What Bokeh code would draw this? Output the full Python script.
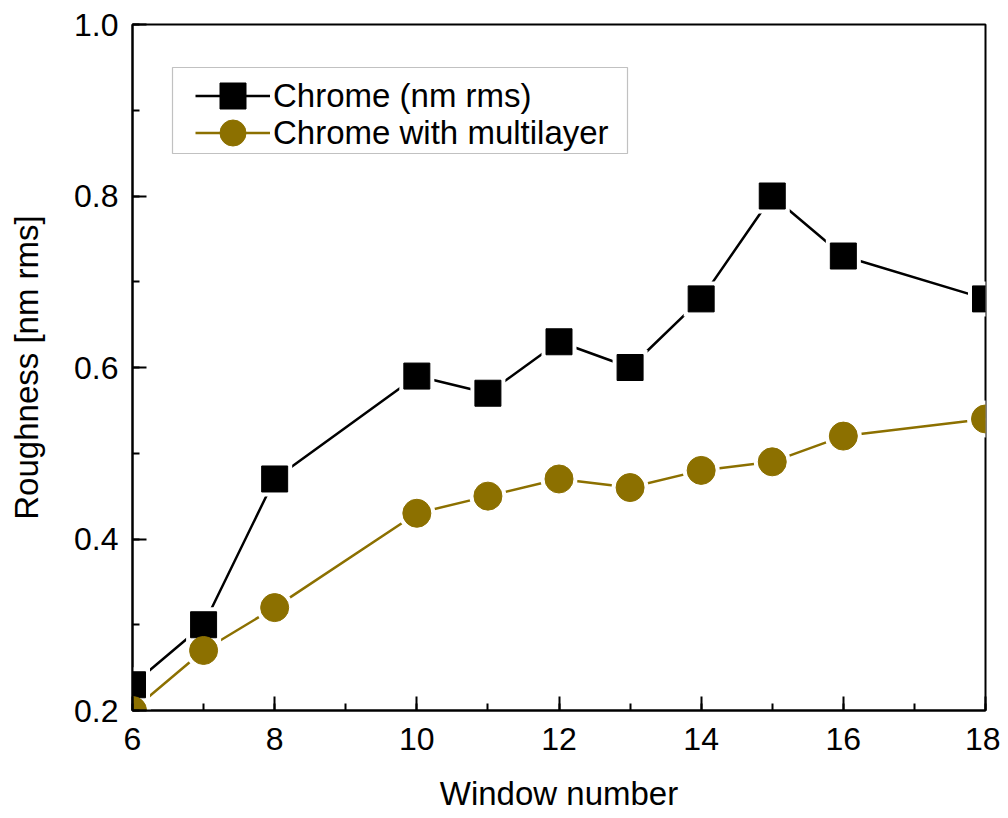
from bokeh.plotting import figure
from bokeh.models import SingleIntervalTicker, Range1d, Legend, LegendItem, NumeralTickFormatter, BoxAnnotation
from bokeh.embed import file_html
from bokeh.resources import INLINE

x_chrome = [6, 7, 8, 10, 11, 12, 13, 14, 15, 16, 18]
y_chrome = [0.23, 0.30, 0.47, 0.59, 0.57, 0.63, 0.60, 0.68, 0.80, 0.73, 0.68]
x_multi = [6, 7, 8, 10, 11, 12, 13, 14, 15, 16, 18]
y_multi = [0.20, 0.27, 0.32, 0.43, 0.45, 0.47, 0.46, 0.48, 0.49, 0.52, 0.54]
label_chrome = "Chrome (nm rms)"
label_multi = "Chrome with multilayer"
x_label = "Window number"
y_label = "Roughness [nm rms]"

GOLD = "#8c7000"
FONT = "Liberation Sans"
SQ = 26
CI = 28

p = figure(width=1000, height=815, output_backend="svg", toolbar_location=None,
           x_range=Range1d(6, 18), y_range=Range1d(0.2, 1.0),
           min_border_left=132, min_border_top=24, min_border_right=15, min_border_bottom=105)
p.background_fill_color = "white"
p.border_fill_color = "white"
p.outline_line_color = "black"
p.outline_line_width = 2
p.grid.visible = False

p.xaxis.ticker = SingleIntervalTicker(interval=2, num_minor_ticks=2)
p.yaxis.ticker = SingleIntervalTicker(interval=0.2, num_minor_ticks=2)
p.yaxis.formatter = NumeralTickFormatter(format="0.0")
for ax in (p.xaxis, p.yaxis):
    ax.axis_line_width = 2
    ax.major_tick_line_width = 2
    ax.minor_tick_line_width = 2
    ax.major_tick_in = 14
    ax.major_tick_out = 0
    ax.minor_tick_in = 7
    ax.minor_tick_out = 0
    ax.major_label_text_font = FONT
    ax.major_label_text_font_size = "32px"
    ax.major_label_text_color = "black"
    ax.axis_label_text_font = FONT
    ax.axis_label_text_font_size = "33px"
    ax.axis_label_text_font_style = "normal"
    ax.axis_label_text_color = "black"
p.xaxis.axis_label = x_label
p.yaxis.axis_label = y_label
p.xaxis.major_label_standoff = 17
p.yaxis.major_label_standoff = 14
p.xaxis.axis_label_standoff = 22
p.yaxis.axis_label_standoff = 26

l1 = p.line(x_chrome, y_chrome, line_color="black", line_width=2.5)
l2 = p.line(x_multi, y_multi, line_color=GOLD, line_width=2.5)
p.scatter(x_chrome, y_chrome, marker="square", size=SQ + 9, fill_color="white", line_color=None)
p.scatter(x_multi, y_multi, marker="circle", size=CI + 9, fill_color="white", line_color=None)
m1 = p.scatter(x_chrome, y_chrome, marker="square", size=SQ, fill_color="black", line_color="black")
m2 = p.scatter(x_multi, y_multi, marker="circle", size=CI, fill_color=GOLD, line_color=GOLD)

# legend frame (screen units, relative to the plot frame)
box = BoxAnnotation(left=40, right=495, bottom=557, top=643,
                    left_units="screen", right_units="screen",
                    bottom_units="screen", top_units="screen",
                    fill_color="white", fill_alpha=1,
                    line_color="#333333", line_width=1.2)
p.add_layout(box)


def make_legend(label, renderers, loc):
    lg = Legend(items=[LegendItem(label=label, renderers=renderers)], location=loc)
    lg.label_text_font = FONT
    lg.label_text_font_size = "33px"
    lg.label_text_color = "black"
    lg.glyph_width = 75
    lg.glyph_height = 65
    lg.label_height = 37
    lg.label_standoff = 3
    lg.spacing = 0
    lg.padding = 0
    lg.margin = 0
    lg.border_line_color = None
    lg.background_fill_alpha = 0
    return lg


p.add_layout(make_legend(label_chrome, [l1, m1], (63, 582)))
p.add_layout(make_legend(label_multi, [l2, m2], (63, 545)))

open("out.html", "w").write(file_html(p, INLINE))
